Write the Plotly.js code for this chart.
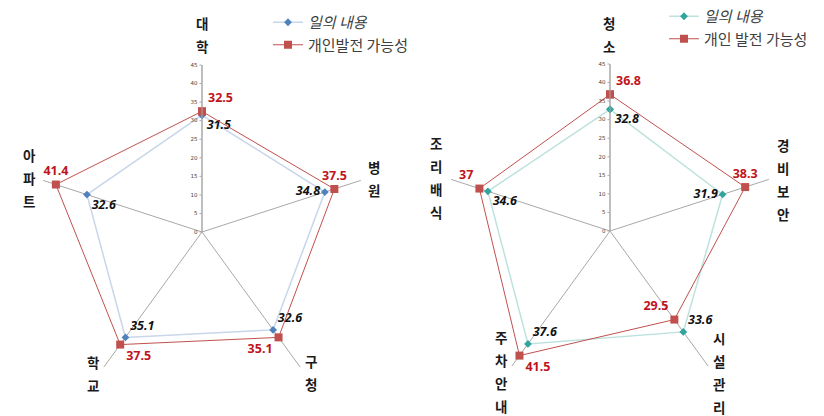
<!DOCTYPE html>
<html><head><meta charset="utf-8">
<script src="https://cdn.plot.ly/plotly-3.0.1.min.js"></script>
<style>html,body{margin:0;padding:0;background:#fff}#chart{width:824px;height:416px}</style>
</head><body><div id="chart"></div>
<script>
// ---- data ----
const leftCategories = ['대학', '병원', '구청', '학교', '아파트'];
const leftWork = [31.5, 34.8, 32.6, 35.1, 32.6];
const leftGrowth = [32.5, 37.5, 35.1, 37.5, 41.4];

const rightCategories = ['청소', '경비보안', '시설관리', '주차안내', '조리배식'];
const rightWork = [32.8, 31.9, 33.6, 37.6, 34.6];
const rightGrowth = [36.8, 38.3, 29.5, 41.5, 37];

const leftSeriesNames = ['일의 내용', '개인발전 가능성'];
const rightSeriesNames = ['일의 내용', '개인 발전 가능성'];
const radialTickValues = [0, 5, 10, 15, 20, 25, 30, 35, 40, 45];

// ---- styles ----
const W = 824, H = 416;
const leftWorkPos = ['bottom right', 'middle left', 'top right', 'top right', 'bottom right'];
const leftGrowthPos = ['top right', 'top center', 'bottom left', 'bottom right', 'top center'];
const rightWorkPos = ['bottom right', 'middle left', 'top right', 'top right', 'bottom right'];
const rightGrowthPos = ['top right', 'top center', 'top left', 'bottom right', 'top left'];

const labelFont = 'Noto Sans, "Noto Sans CJK KR", sans-serif';
const redLabel = {family: labelFont, size: 12.5, color: '#C0141C', weight: 700};
const blackLabel = {family: labelFont, size: 12.5, color: '#111111', weight: 700, style: 'italic'};

function close(arr) { return arr.concat([arr[0]]); }
function labels(arr) { return arr.map(String).concat(['']); }
function closePos(arr) { return arr.concat(['top center']); }

function workTrace(cats, vals, pos, name, sub, lineColor, markerColor, legend) {
  return {
    type: 'scatterpolar', subplot: sub, legend: legend,
    r: close(vals), theta: close(cats), mode: 'lines+markers+text',
    name: '<i>' + name + '</i>',
    text: labels(vals), textposition: closePos(pos), textfont: blackLabel,
    line: {color: lineColor, width: 1.5},
    marker: {symbol: 'diamond', size: 6, color: markerColor},
    cliponaxis: false, hoverinfo: 'skip'
  };
}
function growthTrace(cats, vals, pos, name, sub, legend) {
  return {
    type: 'scatterpolar', subplot: sub, legend: legend,
    r: close(vals), theta: close(cats), mode: 'lines+markers+text',
    name: name,
    text: labels(vals), textposition: closePos(pos), textfont: redLabel,
    line: {color: '#C0504D', width: 1},
    marker: {symbol: 'square', size: 8, color: '#C0504D'},
    cliponaxis: false, hoverinfo: 'skip'
  };
}

const data = [
  workTrace(leftCategories, leftWork, leftWorkPos, leftSeriesNames[0], 'polar', '#c7d6ea', '#4F81BD', 'legend'),
  growthTrace(leftCategories, leftGrowth, leftGrowthPos, leftSeriesNames[1], 'polar', 'legend'),
  workTrace(rightCategories, rightWork, rightWorkPos, rightSeriesNames[0], 'polar2', '#bde2de', '#33A39E', 'legend2'),
  growthTrace(rightCategories, rightGrowth, rightGrowthPos, rightSeriesNames[1], 'polar2', 'legend2')
];

function polarLayout(cats, cx, cy, R) {
  return {
    domain: {x: [(cx - R) / W, (cx + R) / W], y: [1 - (cy + R) / H, 1 - (cy - R) / H]},
    bgcolor: 'rgba(0,0,0,0)',
    angularaxis: {
      type: 'category', categoryorder: 'array', categoryarray: cats,
      rotation: 90, direction: 'clockwise',
      showgrid: true, gridcolor: '#a8a8a8', gridwidth: 1,
      showline: false, showticklabels: false, ticks: ''
    },
    radialaxis: {
      range: [0, 45], tickvals: radialTickValues, angle: 90,
      side: 'counterclockwise',
      showgrid: false, showline: true, linecolor: '#a8a8a8', linewidth: 1,
      ticks: 'outside', ticklen: 2, tickcolor: '#a8a8a8',
      tickfont: {family: 'DejaVu Sans, sans-serif', size: 5.5, color: '#444'},
      tickangle: 90
    }
  };
}

// category labels stacked vertically, one character per line
const leftLabelAnchors = [[202, 23], [374, 167], [311, 361], [93, 362], [29, 155]];
const rightLabelAnchors = [[609, 23], [783, 145], [719, 338], [501, 337], [436, 143]];
const charStep = 23;
const annotations = [];
function addLabels(cats, anchors) {
  cats.forEach((c, i) => {
    Array.from(c).forEach((ch, j) => {
      annotations.push({
        xref: 'paper', yref: 'paper',
        x: anchors[i][0] / W, y: 1 - (anchors[i][1] + j * charStep) / H,
        xanchor: 'center', yanchor: 'middle', showarrow: false,
        text: ch, borderpad: 0,
        font: {family: '"Noto Sans CJK KR", sans-serif', size: 13.5, color: '#1a1a1a', weight: 700}
      });
    });
  });
}
addLabels(leftCategories, leftLabelAnchors);
addLabels(rightCategories, rightLabelAnchors);

const layout = {
  width: W, height: H,
  margin: {l: 0, r: 0, t: 0, b: 0},
  paper_bgcolor: '#ffffff',
  showlegend: true,
  polar: polarLayout(leftCategories, 202, 232, 167),
  polar2: polarLayout(rightCategories, 610, 231, 167),
  legend: {
    x: 268 / W, y: 1 - 6 / H, xanchor: 'left', yanchor: 'top',
    font: {family: '"Noto Sans CJK KR", sans-serif', size: 15, color: '#404040'},
    bgcolor: 'rgba(0,0,0,0)', itemwidth: 30, tracegroupgap: 0
  },
  legend2: {
    x: 664 / W, y: 1 - 0 / H, xanchor: 'left', yanchor: 'top',
    font: {family: '"Noto Sans CJK KR", sans-serif', size: 15, color: '#404040'},
    bgcolor: 'rgba(0,0,0,0)', itemwidth: 30, tracegroupgap: 0
  },
  annotations: annotations
};

Plotly.newPlot('chart', data, layout, {displayModeBar: false, staticPlot: true});
</script>
</body></html>
